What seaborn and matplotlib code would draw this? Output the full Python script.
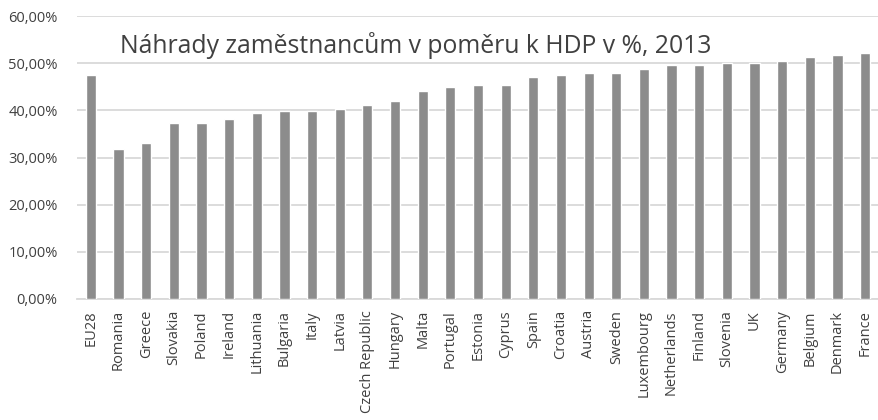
import matplotlib
matplotlib.use("Agg")
import matplotlib.pyplot as plt
import seaborn as sns
import pandas as pd
from matplotlib.ticker import FuncFormatter

countries = ["EU28", "Romania", "Greece", "Slovakia", "Poland", "Ireland", "Lithuania",
             "Bulgaria", "Italy", "Latvia", "Czech Republic", "Hungary", "Malta", "Portugal",
             "Estonia", "Cyprus", "Spain", "Croatia", "Austria", "Sweden", "Luxembourg",
             "Netherlands", "Finland", "Slovenia", "UK", "Germany", "Belgium", "Denmark", "France"]
values = [47.5, 31.7, 33.0, 37.3, 37.3, 38.1, 39.4, 39.8, 39.8, 40.3, 41.1, 41.9, 44.1, 44.9,
          45.3, 45.3, 47.0, 47.5, 47.9, 47.9, 48.8, 49.6, 49.6, 50.1, 50.1, 50.5, 51.3, 51.7, 52.2]
title = "Náhrady zaměstnancům v poměru k HDP v %, 2013"
yticks = [0, 10, 20, 30, 40, 50, 60]

df = pd.DataFrame({"country": countries, "value": values})

sns.set_theme(style="white")
plt.rcParams["font.family"] = ["Open Sans", "DejaVu Sans"]

fig = plt.figure(figsize=(8.79, 4.2), dpi=100)
ax = fig.add_axes([77 / 879, 1 - 299 / 420, 1 - 77 / 879, (299 - 16) / 420])

sns.barplot(data=df, x="country", y="value", color="#8c8c8c", saturation=1,
            width=0.37, ax=ax, zorder=3)

ax.set_ylim(0, 60)
ax.set_xlim(-0.5, len(countries) - 0.5)
ax.set_yticks(yticks)
ax.yaxis.set_major_formatter(FuncFormatter(lambda v, p: f"{v:.2f}%".replace(".", ",")))
ax.grid(axis="y", color="#d9d9d9", linewidth=1.3, zorder=0)
ax.set_axisbelow(True)
for s in ["top", "right", "left"]:
    ax.spines[s].set_visible(False)
ax.spines["bottom"].set_color("#d9d9d9")
ax.spines["bottom"].set_linewidth(1.3)
ax.set_xlabel("")
ax.set_ylabel("")
ax.tick_params(axis="y", length=0, pad=14, labelsize=10.5, labelcolor="#404040")
ax.tick_params(axis="x", length=0, pad=8, labelsize=10.5, labelcolor="#404040", rotation=90)

ax.text(0.053, 0.895, title, transform=ax.transAxes, fontsize=17.8, color="#404040",
        ha="left", va="center")

fig.savefig("out.png", dpi=100)
